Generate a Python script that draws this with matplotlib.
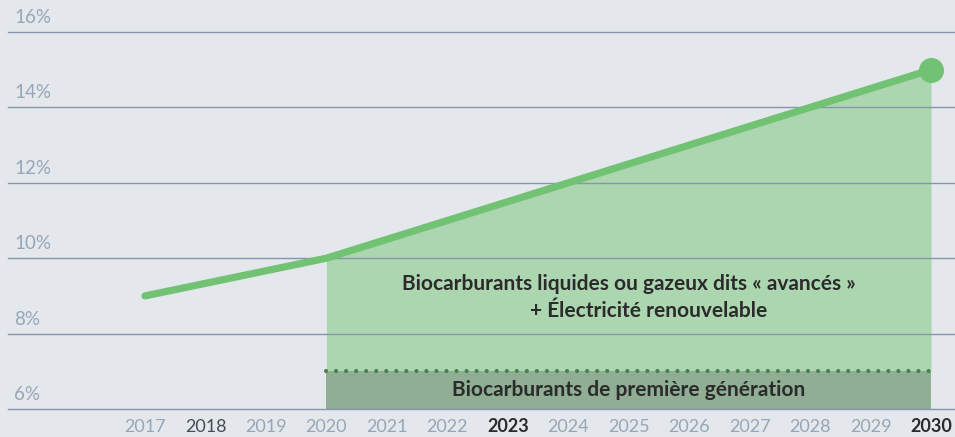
import matplotlib.pyplot as plt
import numpy as np

years = list(range(2017, 2031))
target_years = [2017, 2020, 2030]
target_pct = [9, 10, 15]
first_gen_pct = 7
y_ticks = [6, 8, 10, 12, 14, 16]
bold_years = [2023, 2030]
dark_years = [2018]

bg = '#e4e8ed'
grid_c = '#8496ac'
tick_c = '#97a6b6'
line_c = '#72c274'
fill_c = '#acd6b0'
band_c = '#8fae94'
dot_c = '#4a8050'
text_c = '#2b2b2b'
font = 'Lato'


def draw_chart():
    fig_w_px, fig_h_px = 955, 437
    fig = plt.figure(figsize=[fig_w_px / 100, fig_h_px / 100], dpi=100)
    fig.patch.set_facecolor(bg)
    ax = fig.add_axes([0, 0, 1, 1])
    ax.set_axis_off()
    ax.set_facecolor(bg)

    # pixel mapping
    px_per_year = (931 - 145) / 13
    px_per_pct = (409 - 32) / 10
    x0 = 2017 - 145 / px_per_year
    x1 = 2017 + (fig_w_px - 145) / px_per_year
    y1 = 6 + 409 / px_per_pct
    y0 = 6 - (fig_h_px - 409) / px_per_pct
    ax.set_xlim(x0, x1)
    ax.set_ylim(y0, y1)

    xs = np.array(years, dtype=float)
    line = np.interp(xs, target_years, target_pct)
    mask = xs >= 2020
    ax.fill_between(xs[mask], first_gen_pct, line[mask], color=fill_c, lw=0, zorder=1)
    ax.fill_between(xs[mask], 6, first_gen_pct, color=band_c, lw=0, zorder=1)

    grid_x0 = x0 + 8 / px_per_year
    for v in y_ticks:
        ax.plot([grid_x0, x1], [v, v], color=grid_c, lw=1, zorder=2)
        ax.text(x0 + 14 / px_per_year, v + 6 / px_per_pct, f'{v}%', color=tick_c,
                fontsize=13.5, family=font, ha='left', va='bottom')

    ax.plot([2020, 2030], [first_gen_pct, first_gen_pct], color=dot_c, lw=3,
            linestyle=(0, (0.01, 2.4)), dash_capstyle='round', zorder=3)

    ax.plot(target_years, target_pct, color=line_c, lw=5.2, solid_capstyle='round',
            solid_joinstyle='round', zorder=4)
    ax.plot([2030], [15], 'o', color=line_c, markersize=17, zorder=5)

    for yr in years:
        if yr in bold_years:
            kw = dict(color=text_c, fontweight='bold')
        elif yr in dark_years:
            kw = dict(color='#464c54', fontweight='normal')
        else:
            kw = dict(color=tick_c, fontweight='normal')
        ax.text(yr, 6 - 18 / px_per_pct, str(yr), ha='center', va='center',
                fontsize=13, family=font, **kw)

    ax.text(2025, 6 + (409 - 284) / px_per_pct,
            'Biocarburants liquides ou gazeux dits « avancés »',
            ha='center', va='center', fontsize=15, family=font,
            fontweight='bold', color=text_c, zorder=6)
    ax.text(2025 + 20 / px_per_year, 6 + (409 - 311) / px_per_pct,
            '+ Électricité renouvelable',
            ha='center', va='center', fontsize=15, family=font,
            fontweight='bold', color=text_c, zorder=6)
    ax.text(2025, 6 + (409 - 390) / px_per_pct,
            'Biocarburants de première génération',
            ha='center', va='center', fontsize=15, family=font,
            fontweight='bold', color=text_c, zorder=6)

    plt.savefig('out.png', dpi=100, facecolor=bg)


if __name__ == '__main__':
    draw_chart()
